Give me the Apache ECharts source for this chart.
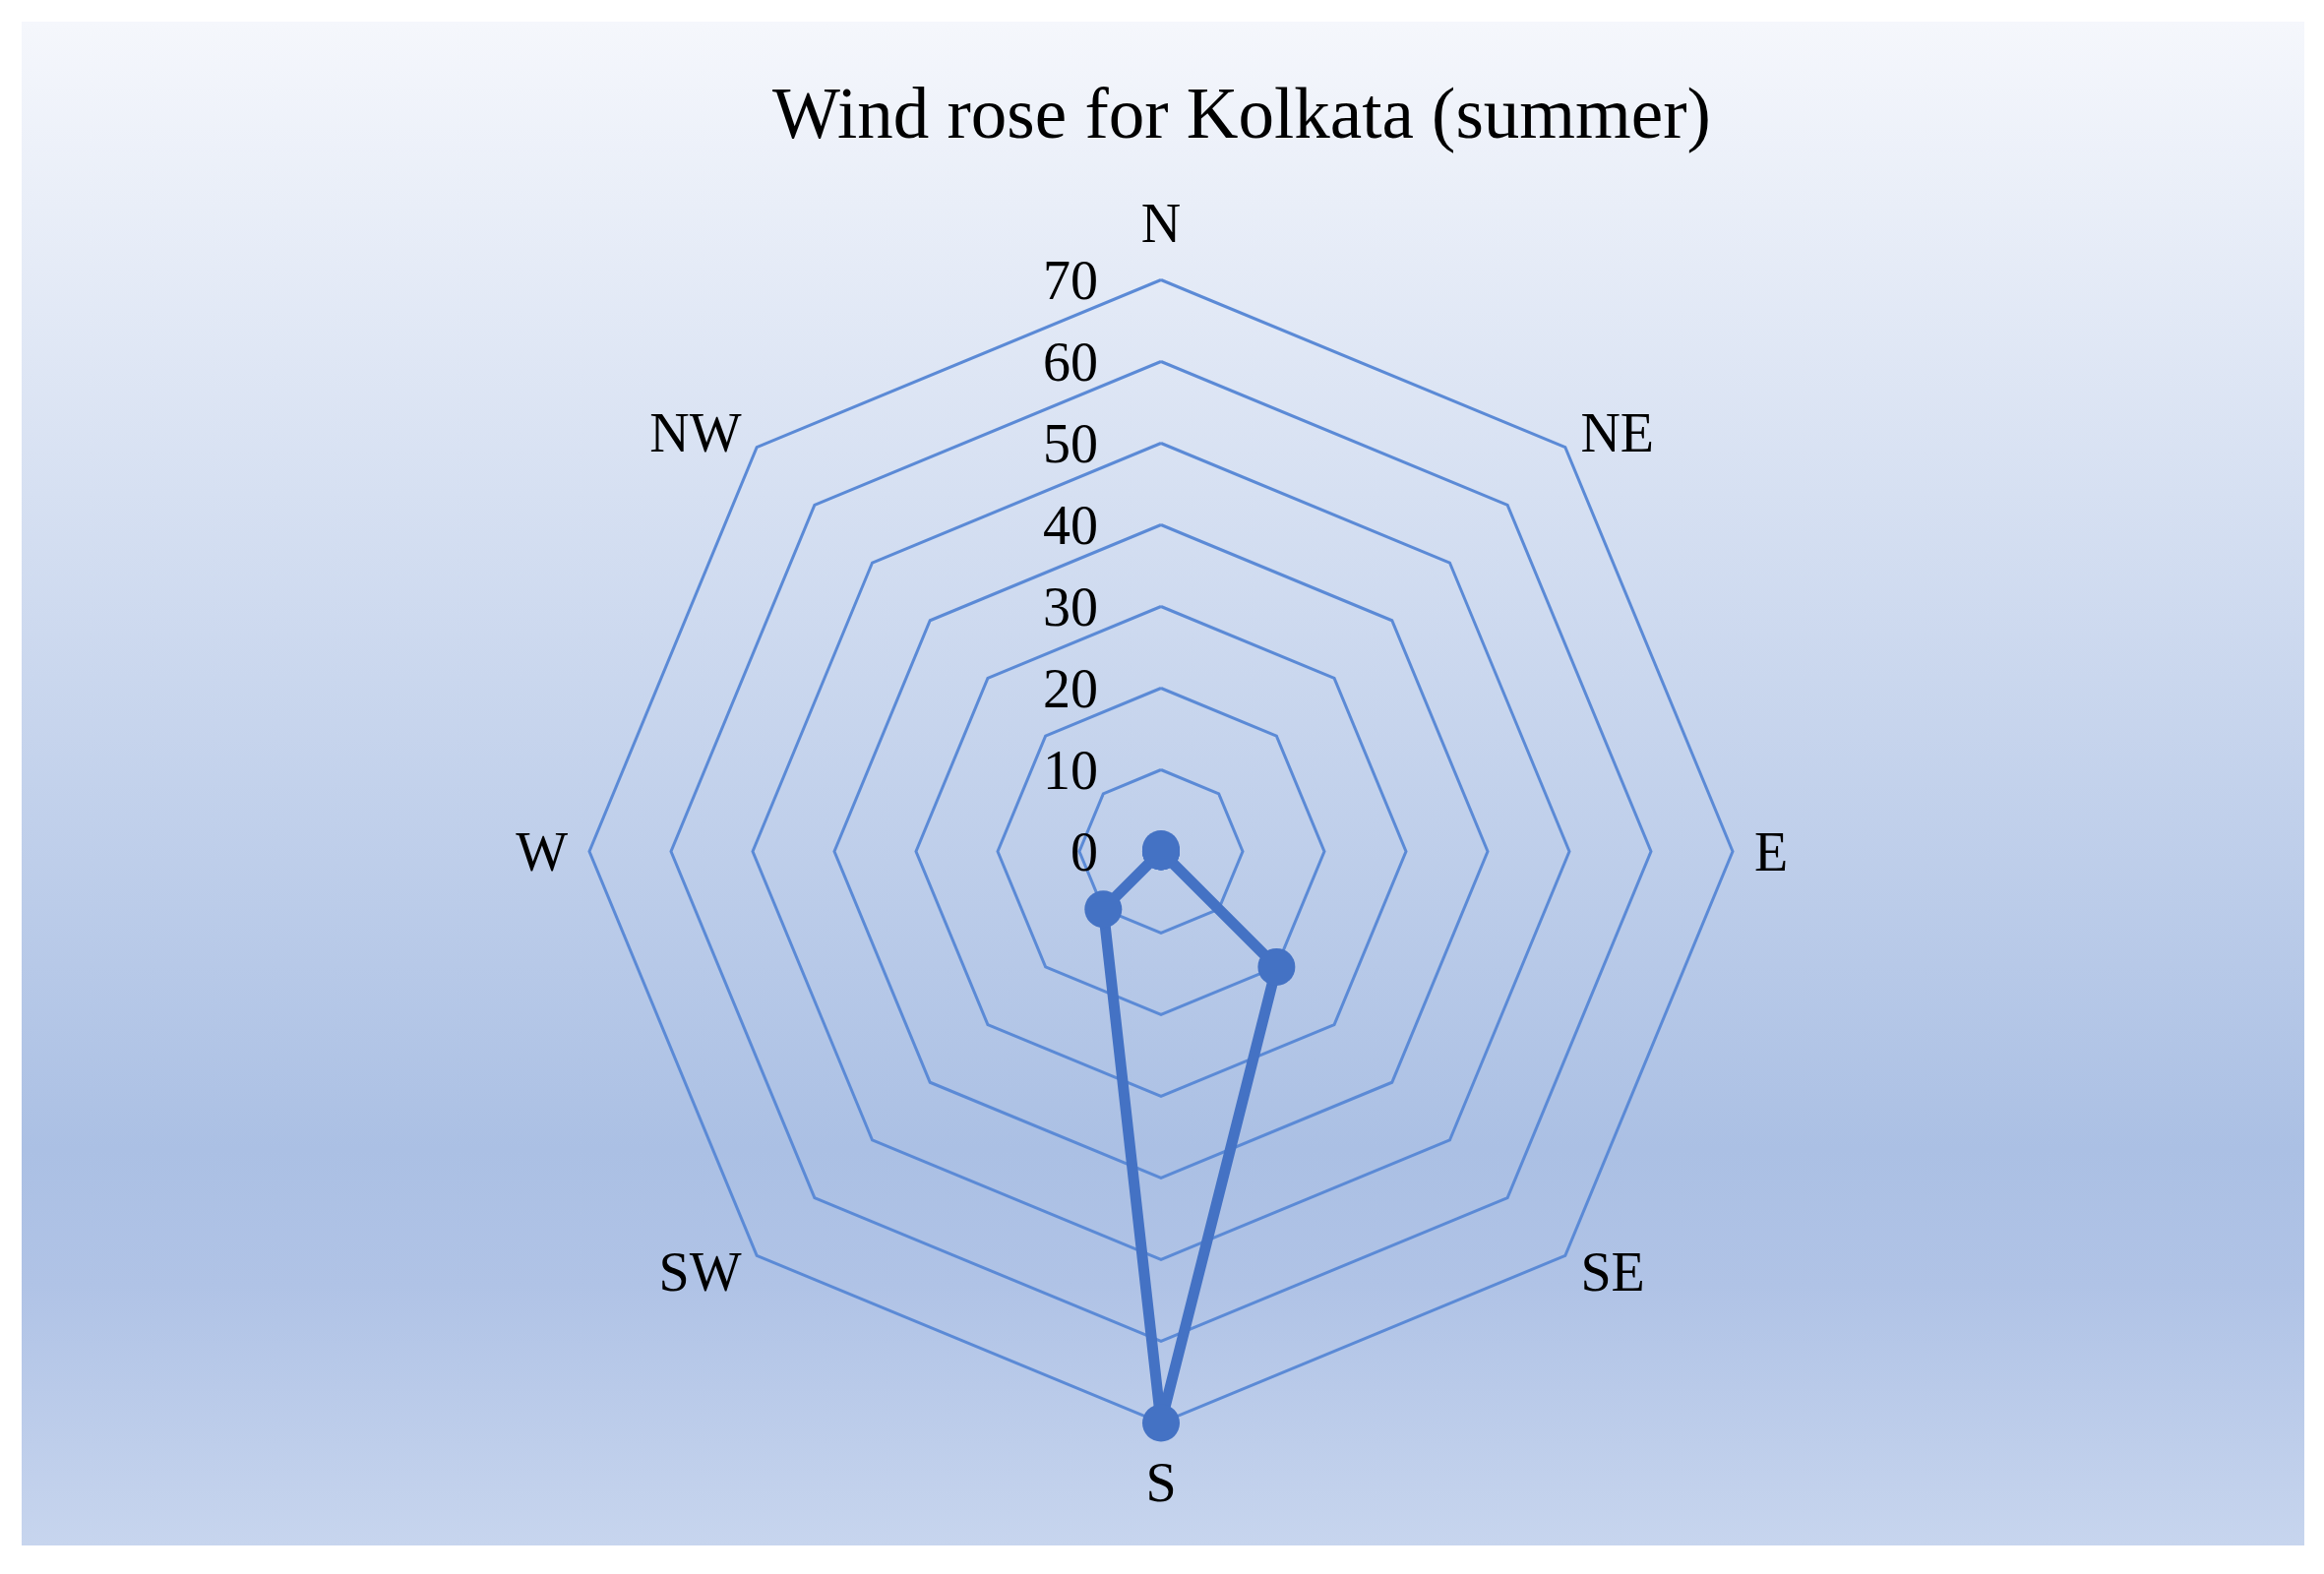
<!DOCTYPE html>
<html>
<head>
<meta charset="utf-8">
<style>
html,body{margin:0;padding:0;background:#fff;}
#chart{width:2362px;height:1600px;}
</style>
<script src="https://cdn.jsdelivr.net/npm/echarts@6/dist/echarts.min.js"></script>
</head>
<body>
<div id="chart"></div>
<script>
// Data
const titleText = 'Wind rose for Kolkata (summer)';
const directions = ['N', 'NE', 'E', 'SE', 'S', 'SW', 'W', 'NW'];
const frequency = [0.3, 0, 0, 20, 70, 10, 0, 0];
const axisMax = 70;
const axisStep = 10;

// ECharts places radar indicators counter-clockwise, so walk N, NW, W, ... to get a clockwise rose
const order = [0, 7, 6, 5, 4, 3, 2, 1];
const serif = '"Liberation Serif", "Times New Roman", serif';
const nameGaps = {N: 58, S: 60};

const indicator = order.map((i, k) => {
  const o = {name: directions[i], max: axisMax, min: 0};
  if (nameGaps[directions[i]] != null) o.nameGap = nameGaps[directions[i]];
  if (k === 0) o.axisLabel = {show: true};
  return o;
});
const values = order.map(i => frequency[i]);

const richText = {t: {color: '#000', fontFamily: serif, fontSize: 56, padding: [10, 0, 0, 0]}};

const chart = echarts.init(document.getElementById('chart'), null, {renderer: 'canvas'});
chart.setOption({
  backgroundColor: '#ffffff',
  animation: false,
  graphic: [{
    type: 'rect',
    z: -10,
    silent: true,
    shape: {x: 22, y: 22, width: 2320, height: 1549},
    style: {
      fill: new echarts.graphic.LinearGradient(0, 0, 0, 1, [
        {offset: 0, color: '#f5f7fc'},
        {offset: 0.74, color: '#abc0e4'},
        {offset: 0.83, color: '#b0c3e6'},
        {offset: 1, color: '#c7d5ee'}
      ])
    }
  }],
  title: {
    text: titleText,
    left: 785,
    top: 84,
    padding: 0,
    textStyle: {fontFamily: serif, fontSize: 73, fontWeight: 'normal', color: '#000'}
  },
  radar: {
    center: [1180, 865.5],
    radius: 581,
    shape: 'polygon',
    splitNumber: axisMax / axisStep,
    nameGap: 22,
    axisName: {
      color: '#000', fontFamily: serif, fontSize: 56, verticalAlign: 'middle',
      formatter: n => '{t|' + n + '}',
      rich: richText
    },
    axisLine: {show: false},
    axisTick: {show: false},
    axisLabel: {
      show: false, color: '#000', fontFamily: serif, fontSize: 56, margin: 64, verticalAlign: 'middle',
      formatter: v => '{t|' + v + '}',
      rich: richText
    },
    splitLine: {lineStyle: {color: '#5b8ad6', width: 3}},
    splitArea: {show: false},
    indicator: indicator
  },
  series: [{
    type: 'radar',
    symbol: 'circle',
    symbolSize: 38,
    lineStyle: {color: '#4472c4', width: 11},
    itemStyle: {color: '#4472c4'},
    data: [{value: values, name: 'Frequency'}]
  }]
});
</script>
</body>
</html>
